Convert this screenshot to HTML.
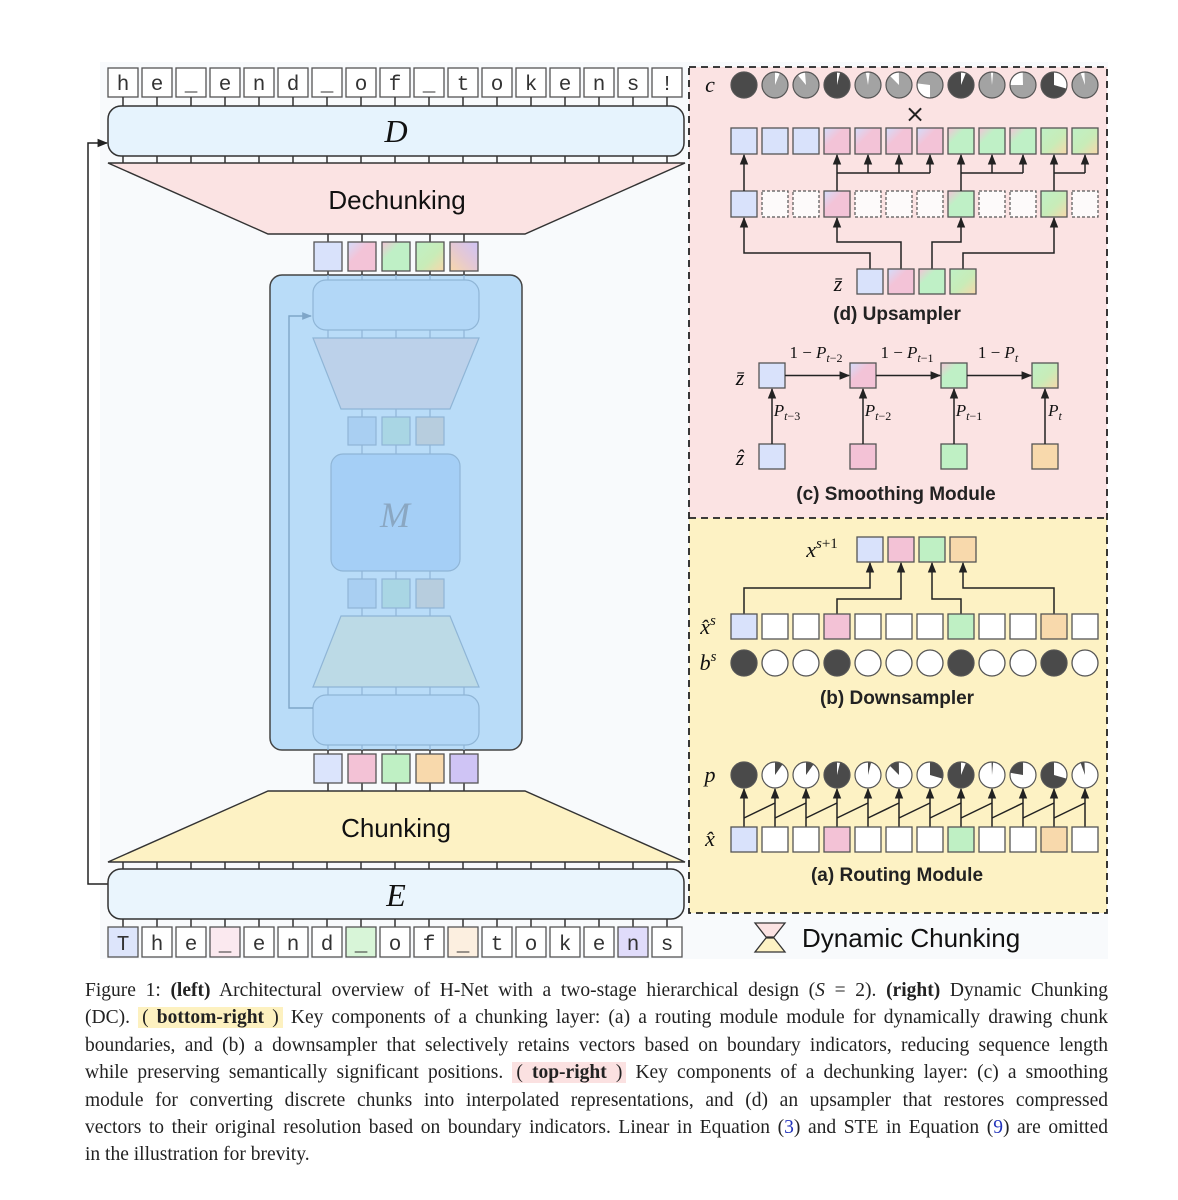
<!DOCTYPE html>
<html><head><meta charset="utf-8"><style>
body{margin:0;background:#fff;width:1178px;height:1200px;position:relative;overflow:hidden}
svg{position:absolute;left:0;top:0}
.cap{position:absolute;left:85px;width:1023px;font-family:"Liberation Serif",serif;font-size:19.5px;color:#222;line-height:27.4px}
.cap div{text-align:justify;text-align-last:justify;white-space:nowrap}
.cap div.last{text-align-last:left}
.hy{background:#fdf1c0;padding:0 4px}.hp{background:#fbe1e1;padding:0 4px}
.bl{color:#2233bb}
</style></head><body>
<svg width="1178" height="970" viewBox="0 0 1178 970" xmlns="http://www.w3.org/2000/svg">
<defs>
<marker id="ar" viewBox="0 0 10 10" refX="9" refY="5" markerWidth="7" markerHeight="7" orient="auto-start-reverse"><path d="M0,1 L10,5 L0,9 z" fill="#222"/></marker>
<marker id="arf" viewBox="0 0 10 10" refX="9" refY="5" markerWidth="7" markerHeight="7" orient="auto"><path d="M0,1 L10,5 L0,9 z" fill="#7fa6c8"/></marker>
<linearGradient id="gBP" x1="0" y1="0" x2="1" y2="1"><stop offset="0" stop-color="#d3ddfb"/><stop offset="0.4" stop-color="#f3c3d7"/><stop offset="1" stop-color="#f3c3d7"/></linearGradient>
<linearGradient id="gPG" x1="0" y1="0" x2="1" y2="1"><stop offset="0" stop-color="#f3c3d7"/><stop offset="0.35" stop-color="#bff0c6"/><stop offset="1" stop-color="#bff0c6"/></linearGradient>
<linearGradient id="gGO" x1="0" y1="0" x2="1" y2="1"><stop offset="0" stop-color="#bff0c6"/><stop offset="0.55" stop-color="#c8ecb8"/><stop offset="1" stop-color="#f8d7aa"/></linearGradient>
<linearGradient id="gPO" x1="1" y1="0" x2="0" y2="1"><stop offset="0" stop-color="#cfc3f6"/><stop offset="0.5" stop-color="#e4c8d4"/><stop offset="1" stop-color="#f8d7aa"/></linearGradient>
</defs>
<rect x="100" y="62" width="1008" height="897" fill="#f8fafc"/>

<rect x="689" y="67" width="418" height="451" fill="#fbe3e3"/>
<rect x="689" y="518" width="418" height="395" fill="#fdf2c4"/>
<g fill="none" stroke="#222" stroke-width="1.8" stroke-dasharray="7,5">
<rect x="689" y="67" width="418" height="846"/>
<line x1="689" y1="518" x2="1107" y2="518"/>
</g>

<polyline points="108,884 88,884 88,143 107,143" fill="none" stroke="#222" stroke-width="1.5" marker-end="url(#ar)"/>

<g stroke="#555" stroke-width="1.3" fill="#fff">
<rect x="108" y="68" width="30" height="29"/><rect x="142" y="68" width="30" height="29"/><rect x="176" y="68" width="30" height="29"/><rect x="210" y="68" width="30" height="29"/><rect x="244" y="68" width="30" height="29"/><rect x="278" y="68" width="30" height="29"/><rect x="312" y="68" width="30" height="29"/><rect x="346" y="68" width="30" height="29"/><rect x="380" y="68" width="30" height="29"/><rect x="414" y="68" width="30" height="29"/><rect x="448" y="68" width="30" height="29"/><rect x="482" y="68" width="30" height="29"/><rect x="516" y="68" width="30" height="29"/><rect x="550" y="68" width="30" height="29"/><rect x="584" y="68" width="30" height="29"/><rect x="618" y="68" width="30" height="29"/><rect x="652" y="68" width="30" height="29"/>
</g>
<g font-family="Liberation Mono,monospace" font-size="21" fill="#333" text-anchor="middle">
<text x="123" y="90">h</text><text x="157" y="90">e</text><text x="191" y="90">_</text><text x="225" y="90">e</text><text x="259" y="90">n</text><text x="293" y="90">d</text><text x="327" y="90">_</text><text x="361" y="90">o</text><text x="395" y="90">f</text><text x="429" y="90">_</text><text x="463" y="90">t</text><text x="497" y="90">o</text><text x="531" y="90">k</text><text x="565" y="90">e</text><text x="599" y="90">n</text><text x="633" y="90">s</text><text x="667" y="90">!</text>
</g>
<g stroke="#333" stroke-width="1.5">
<path d="M123 97v9M157 97v9M191 97v9M225 97v9M259 97v9M293 97v9M327 97v9M361 97v9M395 97v9M429 97v9M463 97v9M497 97v9M531 97v9M565 97v9M599 97v9M633 97v9M667 97v9"/>
<path d="M123 156v7M157 156v7M191 156v7M225 156v7M259 156v7M293 156v7M327 156v7M361 156v7M395 156v7M429 156v7M463 156v7M497 156v7M531 156v7M565 156v7M599 156v7M633 156v7M667 156v7"/>
<path d="M123 862v7M157 862v7M191 862v7M225 862v7M259 862v7M293 862v7M327 862v7M361 862v7M395 862v7M429 862v7M463 862v7M497 862v7M531 862v7M565 862v7M599 862v7M633 862v7M667 862v7"/>
<path d="M123 919v8M157 919v8M191 919v8M225 919v8M259 919v8M293 919v8M327 919v8M361 919v8M395 919v8M429 919v8M463 919v8M497 919v8M531 919v8M565 919v8M599 919v8M633 919v8M667 919v8"/>
<path d="M328 234v8M362 234v8M396 234v8M430 234v8M464 234v8M328 271v4M362 271v4M396 271v4M430 271v4M464 271v4"/>
<path d="M328 783v8M362 783v8M396 783v8M430 783v8M464 783v8M328 750v4M362 750v4M396 750v4M430 750v4M464 750v4"/>
</g>
<rect x="108" y="106" width="576" height="50" rx="13" fill="#e6f3fd" stroke="#333" stroke-width="1.5"/>
<text x="396" y="142" font-family="Liberation Serif,serif" font-style="italic" font-size="32" text-anchor="middle" fill="#111">D</text>
<polygon points="108,163 685,163 525,234 268,234" fill="#fbe3e3" stroke="#333" stroke-width="1.4"/>
<text x="397" y="209" font-family="Liberation Sans,sans-serif" font-size="26" text-anchor="middle" fill="#111">Dechunking</text>

<g stroke="#555" stroke-width="1.3">
<rect x="314" y="242" width="28" height="29" fill="#d9e2fb"/>
<rect x="348" y="242" width="28" height="29" fill="url(#gBP)"/>
<rect x="382" y="242" width="28" height="29" fill="url(#gPG)"/>
<rect x="416" y="242" width="28" height="29" fill="url(#gGO)"/>
<rect x="450" y="242" width="28" height="29" fill="url(#gPO)"/>
</g>

<rect x="270" y="275" width="252" height="475" rx="12" fill="#b9dcf8" stroke="#444" stroke-width="1.5"/>
<g stroke="#8fb5d6" stroke-width="1.2">
<path d="M328 275v5M362 275v5M396 275v5M430 275v5M464 275v5M328 330v8M362 330v8M396 330v8M430 330v8M464 330v8"/>
<path d="M362 409v8M396 409v8M430 409v8M362 445v9M396 445v9M430 445v9M362 571v8M396 571v8M430 571v8M362 608v8M396 608v8M430 608v8"/>
<path d="M328 687v8M362 687v8M396 687v8M430 687v8M464 687v8M328 745v5M362 745v5M396 745v5M430 745v5M464 745v5"/>
<rect x="313" y="280" width="166" height="50" rx="13" fill="#b2d7f7"/>
<polygon points="313,338 479,338 450,409 341,409" fill="#bcd1ea"/>
<rect x="348" y="417" width="28" height="28" fill="#a9cff2"/>
<rect x="382" y="417" width="28" height="28" fill="#a9d6e4"/>
<rect x="416" y="417" width="28" height="28" fill="#b7cdde"/>
<rect x="331" y="454" width="129" height="117" rx="12" fill="#a5cff6"/>
<rect x="348" y="579" width="28" height="29" fill="#a9cff2"/>
<rect x="382" y="579" width="28" height="29" fill="#a9d6e4"/>
<rect x="416" y="579" width="28" height="29" fill="#b7cdde"/>
<polygon points="341,616 450,616 479,687 313,687" fill="#bcdae6"/>
<rect x="313" y="695" width="166" height="50" rx="13" fill="#b2d7f7"/>
</g>
<polyline points="313,708 289,708 289,316 311,316" fill="none" stroke="#7fa6c8" stroke-width="1.4" marker-end="url(#arf)"/>
<text x="395" y="527" font-family="Liberation Serif,serif" font-style="italic" font-size="36" text-anchor="middle" fill="#8aa7c2">M</text>

<g stroke="#555" stroke-width="1.3">
<rect x="314" y="754" width="28" height="29" fill="#dbe4fc"/>
<rect x="348" y="754" width="28" height="29" fill="#f3c2d6"/>
<rect x="382" y="754" width="28" height="29" fill="#bff0c4"/>
<rect x="416" y="754" width="28" height="29" fill="#f8d9ac"/>
<rect x="450" y="754" width="28" height="29" fill="#cfc4f5"/>
</g>
<polygon points="268,791 525,791 685,862 108,862" fill="#fdf2c4" stroke="#333" stroke-width="1.4"/>
<text x="396" y="837" font-family="Liberation Sans,sans-serif" font-size="26" text-anchor="middle" fill="#111">Chunking</text>
<rect x="108" y="869" width="576" height="50" rx="13" fill="#eaf5fd" stroke="#333" stroke-width="1.5"/>
<text x="396" y="906" font-family="Liberation Serif,serif" font-style="italic" font-size="32" text-anchor="middle" fill="#111">E</text>

<g stroke="#555" stroke-width="1.3" fill="#fff">
<rect x="108" y="927" width="30" height="30" fill="#dde5fb"/><rect x="142" y="927" width="30" height="30"/><rect x="176" y="927" width="30" height="30"/><rect x="210" y="927" width="30" height="30" fill="#fbe9ef"/><rect x="244" y="927" width="30" height="30"/><rect x="278" y="927" width="30" height="30"/><rect x="312" y="927" width="30" height="30"/><rect x="346" y="927" width="30" height="30" fill="#d8f5d8"/><rect x="380" y="927" width="30" height="30"/><rect x="414" y="927" width="30" height="30"/><rect x="448" y="927" width="30" height="30" fill="#fcefe0"/><rect x="482" y="927" width="30" height="30"/><rect x="516" y="927" width="30" height="30"/><rect x="550" y="927" width="30" height="30"/><rect x="584" y="927" width="30" height="30"/><rect x="618" y="927" width="30" height="30" fill="#e0dcfb"/><rect x="652" y="927" width="30" height="30"/>
</g>
<g font-family="Liberation Mono,monospace" font-size="21" fill="#333" text-anchor="middle">
<text x="123" y="950">T</text><text x="157" y="950">h</text><text x="191" y="950">e</text><text x="225" y="950">_</text><text x="259" y="950">e</text><text x="293" y="950">n</text><text x="327" y="950">d</text><text x="361" y="950">_</text><text x="395" y="950">o</text><text x="429" y="950">f</text><text x="463" y="950">_</text><text x="497" y="950">t</text><text x="531" y="950">o</text><text x="565" y="950">k</text><text x="599" y="950">e</text><text x="633" y="950">n</text><text x="667" y="950">s</text>
</g>

<text x="710" y="92" font-family="Liberation Serif,serif" font-style="italic" font-size="22" text-anchor="middle" fill="#111">c</text>
<g stroke-width="13" fill="none">
<circle cx="744" cy="85" r="13" fill="#4a4a4a" stroke="none"/>
<circle cx="775" cy="85" r="13" fill="#a3a3a3" stroke="none"/>
<circle cx="806" cy="85" r="13" fill="#a3a3a3" stroke="none"/>
<circle cx="837" cy="85" r="13" fill="#4a4a4a" stroke="none"/>
<circle cx="868" cy="85" r="13" fill="#a3a3a3" stroke="none"/>
<circle cx="899" cy="85" r="13" fill="#a3a3a3" stroke="none"/>
<circle cx="930" cy="85" r="13" fill="#a3a3a3" stroke="none"/>
<circle cx="961" cy="85" r="13" fill="#4a4a4a" stroke="none"/>
<circle cx="992" cy="85" r="13" fill="#a3a3a3" stroke="none"/>
<circle cx="1023" cy="85" r="13" fill="#a3a3a3" stroke="none"/>
<circle cx="1054" cy="85" r="13" fill="#4a4a4a" stroke="none"/>
<circle cx="1085" cy="85" r="13" fill="#a3a3a3" stroke="none"/>
<g stroke="#fff">
<circle cx="775" cy="85" r="6.5" stroke-dasharray="2.5 100" transform="rotate(-90 775 85)"/>
<circle cx="806" cy="85" r="6.5" stroke-dasharray="4 100" transform="rotate(-130 806 85)"/>
<circle cx="837" cy="85" r="6.5" stroke-dasharray="1.6 100" transform="rotate(-90 837 85)"/>
<circle cx="868" cy="85" r="6.5" stroke-dasharray="2 100" transform="rotate(-100 868 85)"/>
<circle cx="899" cy="85" r="6.5" stroke-dasharray="5 100" transform="rotate(-135 899 85)"/>
<circle cx="930" cy="85" r="6.5" stroke-dasharray="11 100" transform="rotate(90 930 85)"/>
<circle cx="961" cy="85" r="6.5" stroke-dasharray="2.5 100" transform="rotate(-90 961 85)"/>
<circle cx="992" cy="85" r="6.5" stroke-dasharray="1.2 100" transform="rotate(-95 992 85)"/>
<circle cx="1023" cy="85" r="6.5" stroke-dasharray="10 100" transform="rotate(-180 1023 85)"/>
<circle cx="1054" cy="85" r="6.5" stroke-dasharray="12 100" transform="rotate(-90 1054 85)"/>
<circle cx="1085" cy="85" r="6.5" stroke-dasharray="2 100" transform="rotate(-110 1085 85)"/>
</g>
</g>
<g fill="none" stroke="#555" stroke-width="1.2">
<circle cx="744" cy="85" r="13"/><circle cx="775" cy="85" r="13"/><circle cx="806" cy="85" r="13"/><circle cx="837" cy="85" r="13"/><circle cx="868" cy="85" r="13"/><circle cx="899" cy="85" r="13"/><circle cx="930" cy="85" r="13"/><circle cx="961" cy="85" r="13"/><circle cx="992" cy="85" r="13"/><circle cx="1023" cy="85" r="13"/><circle cx="1054" cy="85" r="13"/><circle cx="1085" cy="85" r="13"/>
</g>
<text x="915" y="122" font-family="DejaVu Sans,sans-serif" font-size="24" text-anchor="middle" fill="#222">×</text>

<g stroke="#555" stroke-width="1.3">
<rect x="731" y="128" width="26" height="26" fill="#d9e2fb"/>
<rect x="762" y="128" width="26" height="26" fill="#d9e2fb"/>
<rect x="793" y="128" width="26" height="26" fill="#d9e2fb"/>
<rect x="824" y="128" width="26" height="26" fill="url(#gBP)"/>
<rect x="855" y="128" width="26" height="26" fill="url(#gBP)"/>
<rect x="886" y="128" width="26" height="26" fill="url(#gBP)"/>
<rect x="917" y="128" width="26" height="26" fill="url(#gBP)"/>
<rect x="948" y="128" width="26" height="26" fill="url(#gPG)"/>
<rect x="979" y="128" width="26" height="26" fill="url(#gPG)"/>
<rect x="1010" y="128" width="26" height="26" fill="url(#gPG)"/>
<rect x="1041" y="128" width="26" height="26" fill="url(#gGO)"/>
<rect x="1072" y="128" width="26" height="26" fill="url(#gGO)"/>
<rect x="731" y="191" width="26" height="26" fill="#d9e2fb"/>
<rect x="824" y="191" width="26" height="26" fill="url(#gBP)"/>
<rect x="948" y="191" width="26" height="26" fill="url(#gPG)"/>
<rect x="1041" y="191" width="26" height="26" fill="url(#gGO)"/>
</g>
<g stroke="#555" stroke-width="1.2" stroke-dasharray="3,2" fill="#fdfafa">
<rect x="762" y="191" width="26" height="26"/><rect x="793" y="191" width="26" height="26"/>
<rect x="855" y="191" width="26" height="26"/><rect x="886" y="191" width="26" height="26"/><rect x="917" y="191" width="26" height="26"/>
<rect x="979" y="191" width="26" height="26"/><rect x="1010" y="191" width="26" height="26"/>
<rect x="1072" y="191" width="26" height="26"/>
</g>
<g stroke="#222" stroke-width="1.5" fill="none" marker-end="url(#ar)">
<path d="M744 191V155"/><path d="M837 191V155"/><path d="M868 173V155"/><path d="M899 173V155"/><path d="M930 173V155"/>
<path d="M961 191V155"/><path d="M992 173V155"/><path d="M1023 173V155"/>
<path d="M1054 191V155"/><path d="M1085 173V155"/>
<path d="M870 269V253H744V218"/><path d="M901 269V242H837V218"/><path d="M932 269V242H961V218"/><path d="M963 269V253H1054V218"/>
</g>
<g stroke="#222" stroke-width="1.5"><path d="M837 173H930M961 173H1023M1054 173H1085"/></g>
<text x="838" y="291" font-family="Liberation Serif,serif" font-style="italic" font-size="22" text-anchor="middle" fill="#111">z̄</text>
<g stroke="#555" stroke-width="1.3">
<rect x="857" y="269" width="26" height="25" fill="#d9e2fb"/>
<rect x="888" y="269" width="26" height="25" fill="url(#gBP)"/>
<rect x="919" y="269" width="26" height="25" fill="url(#gPG)"/>
<rect x="950" y="269" width="26" height="25" fill="url(#gGO)"/>
</g>
<text x="897" y="320" font-family="Liberation Sans,sans-serif" font-weight="bold" font-size="19" text-anchor="middle" fill="#222">(d) Upsampler</text>

<g font-family="Liberation Serif,serif" font-size="17" fill="#111" text-anchor="middle">
<text x="816" y="358">1 − <tspan font-style="italic">P</tspan><tspan font-size="12" dy="4"><tspan font-style="italic">t</tspan>−2</tspan></text>
<text x="907" y="358">1 − <tspan font-style="italic">P</tspan><tspan font-size="12" dy="4"><tspan font-style="italic">t</tspan>−1</tspan></text>
<text x="998" y="358">1 − <tspan font-style="italic">P</tspan><tspan font-size="12" dy="4" font-style="italic">t</tspan></text>
<text x="787" y="416" font-style="italic">P<tspan font-size="12" dy="4">t<tspan font-style="normal">−3</tspan></tspan></text>
<text x="878" y="416" font-style="italic">P<tspan font-size="12" dy="4">t<tspan font-style="normal">−2</tspan></tspan></text>
<text x="969" y="416" font-style="italic">P<tspan font-size="12" dy="4">t<tspan font-style="normal">−1</tspan></tspan></text>
<text x="1055" y="416" font-style="italic">P<tspan font-size="12" dy="4">t</tspan></text>
</g>
<g font-family="Liberation Serif,serif" font-style="italic" font-size="22" fill="#111" text-anchor="middle">
<text x="740" y="385">z̄</text><text x="740" y="465">ẑ</text>
</g>
<g stroke="#555" stroke-width="1.3">
<rect x="759" y="363" width="26" height="25" fill="#d9e2fb"/>
<rect x="850" y="363" width="26" height="25" fill="url(#gBP)"/>
<rect x="941" y="363" width="26" height="25" fill="url(#gPG)"/>
<rect x="1032" y="363" width="26" height="25" fill="url(#gGO)"/>
<rect x="759" y="444" width="26" height="25" fill="#d9e2fb"/>
<rect x="850" y="444" width="26" height="25" fill="#f3c2d6"/>
<rect x="941" y="444" width="26" height="25" fill="#bff0c4"/>
<rect x="1032" y="444" width="26" height="25" fill="#f8d9ac"/>
</g>
<g stroke="#222" stroke-width="1.5" fill="none" marker-end="url(#ar)">
<path d="M785 375.5H849"/><path d="M876 375.5H940"/><path d="M967 375.5H1031"/>
<path d="M772 444V389"/><path d="M863 444V389"/><path d="M954 444V389"/><path d="M1045 444V389"/>
</g>
<text x="896" y="500" font-family="Liberation Sans,sans-serif" font-weight="bold" font-size="19" text-anchor="middle" fill="#222">(c) Smoothing Module</text>

<text x="822" y="557" font-family="Liberation Serif,serif" font-style="italic" font-size="22" text-anchor="middle" fill="#111">x<tspan font-size="15" dy="-9" font-style="italic">s</tspan><tspan font-size="15" font-style="normal">+1</tspan></text>
<g stroke="#555" stroke-width="1.3">
<rect x="857" y="537" width="26" height="25" fill="#d9e2fb"/>
<rect x="888" y="537" width="26" height="25" fill="#f3c2d6"/>
<rect x="919" y="537" width="26" height="25" fill="#bff0c4"/>
<rect x="950" y="537" width="26" height="25" fill="#f8d9ac"/>
</g>
<g stroke="#222" stroke-width="1.5" fill="none" marker-end="url(#ar)">
<path d="M744 614V588H870V563"/><path d="M837 614V599H901V563"/><path d="M961 614V599H932V563"/><path d="M1054 614V588H963V563"/>
</g>
<g font-family="Liberation Serif,serif" font-style="italic" font-size="22" fill="#111" text-anchor="middle">
<text x="708" y="634">x̂<tspan font-size="15" dy="-9">s</tspan></text>
<text x="708" y="670">b<tspan font-size="15" dy="-9">s</tspan></text>
<text x="710" y="782">p</text>
<text x="710" y="846">x̂</text>
</g>
<g stroke="#555" stroke-width="1.3" fill="#fff">
<rect x="731" y="614" width="26" height="25" fill="#d9e2fb"/><rect x="762" y="614" width="26" height="25"/><rect x="793" y="614" width="26" height="25"/><rect x="824" y="614" width="26" height="25" fill="#f3c2d6"/><rect x="855" y="614" width="26" height="25"/><rect x="886" y="614" width="26" height="25"/><rect x="917" y="614" width="26" height="25"/><rect x="948" y="614" width="26" height="25" fill="#bff0c4"/><rect x="979" y="614" width="26" height="25"/><rect x="1010" y="614" width="26" height="25"/><rect x="1041" y="614" width="26" height="25" fill="#f8d9ac"/><rect x="1072" y="614" width="26" height="25"/>
<circle cx="744" cy="663" r="13" fill="#4a4a4a"/><circle cx="775" cy="663" r="13"/><circle cx="806" cy="663" r="13"/><circle cx="837" cy="663" r="13" fill="#4a4a4a"/><circle cx="868" cy="663" r="13"/><circle cx="899" cy="663" r="13"/><circle cx="930" cy="663" r="13"/><circle cx="961" cy="663" r="13" fill="#4a4a4a"/><circle cx="992" cy="663" r="13"/><circle cx="1023" cy="663" r="13"/><circle cx="1054" cy="663" r="13" fill="#4a4a4a"/><circle cx="1085" cy="663" r="13"/>
</g>
<text x="897" y="704" font-family="Liberation Sans,sans-serif" font-weight="bold" font-size="19" text-anchor="middle" fill="#222">(b) Downsampler</text>

<g fill="#fff" stroke="none">
<circle cx="744" cy="775" r="13" fill="#4a4a4a"/><circle cx="775" cy="775" r="13"/><circle cx="806" cy="775" r="13"/><circle cx="837" cy="775" r="13" fill="#4a4a4a"/><circle cx="868" cy="775" r="13"/><circle cx="899" cy="775" r="13"/><circle cx="930" cy="775" r="13"/><circle cx="961" cy="775" r="13" fill="#4a4a4a"/><circle cx="992" cy="775" r="13"/><circle cx="1023" cy="775" r="13"/><circle cx="1054" cy="775" r="13" fill="#4a4a4a"/><circle cx="1085" cy="775" r="13"/>
</g>
<g stroke-width="13" fill="none">
<g stroke="#4a4a4a">
<circle cx="775" cy="775" r="6.5" stroke-dasharray="4 100" transform="rotate(-90 775 775)"/>
<circle cx="806" cy="775" r="6.5" stroke-dasharray="4 100" transform="rotate(-90 806 775)"/>
<circle cx="868" cy="775" r="6.5" stroke-dasharray="1.6 100" transform="rotate(-90 868 775)"/>
<circle cx="899" cy="775" r="6.5" stroke-dasharray="5 100" transform="rotate(-135 899 775)"/>
<circle cx="930" cy="775" r="6.5" stroke-dasharray="12 100" transform="rotate(-90 930 775)"/>
<circle cx="992" cy="775" r="6.5" stroke-dasharray="0.8 100" transform="rotate(-92 992 775)"/>
<circle cx="1023" cy="775" r="6.5" stroke-dasharray="9 100" transform="rotate(-170 1023 775)"/>
<circle cx="1085" cy="775" r="6.5" stroke-dasharray="2 100" transform="rotate(-110 1085 775)"/>
</g>
<g stroke="#fff">
<circle cx="837" cy="775" r="6.5" stroke-dasharray="1.6 100" transform="rotate(-90 837 775)"/>
<circle cx="961" cy="775" r="6.5" stroke-dasharray="2.5 100" transform="rotate(-90 961 775)"/>
<circle cx="1054" cy="775" r="6.5" stroke-dasharray="12 100" transform="rotate(-90 1054 775)"/>
</g>
</g>
<g fill="none" stroke="#555" stroke-width="1.2">
<circle cx="744" cy="775" r="13"/><circle cx="775" cy="775" r="13"/><circle cx="806" cy="775" r="13"/><circle cx="837" cy="775" r="13"/><circle cx="868" cy="775" r="13"/><circle cx="899" cy="775" r="13"/><circle cx="930" cy="775" r="13"/><circle cx="961" cy="775" r="13"/><circle cx="992" cy="775" r="13"/><circle cx="1023" cy="775" r="13"/><circle cx="1054" cy="775" r="13"/><circle cx="1085" cy="775" r="13"/>
</g>
<g stroke="#222" stroke-width="1.5" fill="none">
<g marker-end="url(#ar)"><path d="M744 827V789"/><path d="M775 827V789"/><path d="M806 827V789"/><path d="M837 827V789"/><path d="M868 827V789"/><path d="M899 827V789"/><path d="M930 827V789"/><path d="M961 827V789"/><path d="M992 827V789"/><path d="M1023 827V789"/><path d="M1054 827V789"/><path d="M1085 827V789"/></g>
<path d="M744 818L775 803M775 818L806 803M806 818L837 803M837 818L868 803M868 818L899 803M899 818L930 803M930 818L961 803M961 818L992 803M992 818L1023 803M1023 818L1054 803M1054 818L1085 803"/>
</g>
<g stroke="#555" stroke-width="1.3" fill="#fff">
<rect x="731" y="827" width="26" height="25" fill="#d9e2fb"/><rect x="762" y="827" width="26" height="25"/><rect x="793" y="827" width="26" height="25"/><rect x="824" y="827" width="26" height="25" fill="#f3c2d6"/><rect x="855" y="827" width="26" height="25"/><rect x="886" y="827" width="26" height="25"/><rect x="917" y="827" width="26" height="25"/><rect x="948" y="827" width="26" height="25" fill="#bff0c4"/><rect x="979" y="827" width="26" height="25"/><rect x="1010" y="827" width="26" height="25"/><rect x="1041" y="827" width="26" height="25" fill="#f8d9ac"/><rect x="1072" y="827" width="26" height="25"/>
</g>
<text x="897" y="881" font-family="Liberation Sans,sans-serif" font-weight="bold" font-size="19" text-anchor="middle" fill="#222">(a) Routing Module</text>

<polygon points="755,923 785,923 774,937 766,937" fill="#fbe3e3" stroke="#333" stroke-width="1.3"/>
<polygon points="766,938 774,938 785,952 755,952" fill="#fdf2c4" stroke="#333" stroke-width="1.3"/>
<text x="802" y="947" font-family="Liberation Sans,sans-serif" font-size="26" fill="#111">Dynamic Chunking</text>
</svg>

<div class="cap" style="top:977px">
<div>Figure 1: <b>(left)</b> Architectural overview of H-Net with a two-stage hierarchical design (<i>S</i> = 2). <b>(right)</b> Dynamic Chunking</div>
<div>(DC). <span class="hy">( <b>bottom-right</b> )</span> Key components of a chunking layer: (a) a routing module module for dynamically drawing chunk</div>
<div>boundaries, and (b) a downsampler that selectively retains vectors based on boundary indicators, reducing sequence length</div>
<div>while preserving semantically significant positions. <span class="hp">( <b>top-right</b> )</span> Key components of a dechunking layer: (c) a smoothing</div>
<div>module for converting discrete chunks into interpolated representations, and (d) an upsampler that restores compressed</div>
<div>vectors to their original resolution based on boundary indicators. Linear in Equation (<span class="bl">3</span>) and STE in Equation (<span class="bl">9</span>) are omitted</div>
<div class="last">in the illustration for brevity.</div>
</div>
</body></html>
